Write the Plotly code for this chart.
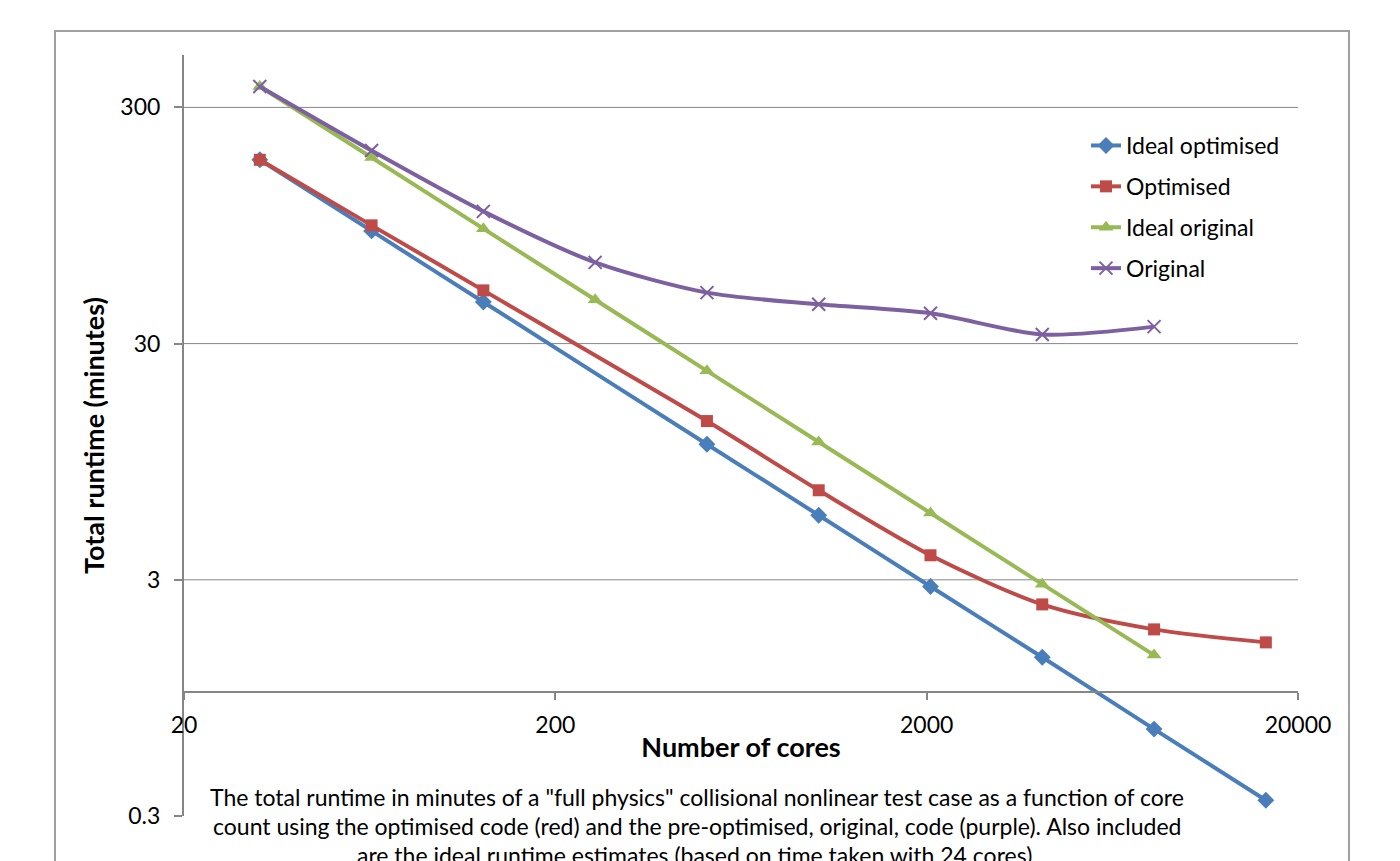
import math
import plotly.graph_objects as go

# Core counts (x) and total runtimes in minutes (y)
cores = [32, 64, 128, 256, 512, 1024, 2048, 4096, 8192, 16384]
ideal_optimised = [180, 90, 45, None, 11.25, 5.63, 2.81, 1.41, 0.70, 0.35]
optimised = [180, 95.0, 50.4, None, 14.1, 7.18, 3.81, 2.36, 1.85, 1.63]
ideal_original = [368, 184, 92, 46, 23, 11.5, 5.75, 2.875, 1.44, None]
original = [368, 197, 108.9, 66.2, 49.3, 44.0, 40.3, 32.8, 35.4, None]

series_names = ["Ideal optimised", "Optimised", "Ideal original", "Original"]
series_colors = ["#4A7EBB", "#BE4B48", "#98B954", "#7D60A0"]
series_symbols = ["diamond", "square", "triangle-up", "x-thin"]
series_sizes = [13, 12, 13, 13]

x_ticks = [20, 200, 2000, 20000]
y_ticks = [0.3, 3, 30, 300]
y_grid = [3, 30, 300]

caption_lines = [
    'The total runtime in minutes of a "full physics" collisional nonlinear test case as a function of core',
    "count using the optimised code (red) and the pre-optimised, original, code (purple). Also included",
    "are the ideal runtime estimates (based on time taken with 24 cores).",
]

FONT = "Lato"
TXT = 23
TITLE = 27
W, H = 1400, 861
ML, MR, MT, MB = 184, 102, 55, 45
PW, PH = W - ML - MR, H - MT - MB

y_lo, y_hi = math.log10(0.3), math.log10(500)
x_lo, x_hi = math.log10(20), math.log10(20000)


def px_x(p):
    return (p - ML) / PW


def px_y(p):
    return (H - MB - p) / PH


fig = go.Figure()
for name, vals, col, sym, sz in zip(series_names,
                                    [ideal_optimised, optimised, ideal_original, original],
                                    series_colors, series_symbols, series_sizes):
    fig.add_trace(go.Scatter(
        x=cores, y=vals, name=name, mode="lines+markers",
        connectgaps=True, legendgroup=name,
        line=dict(color=col, width=4, shape="spline", smoothing=0.8),
        marker=dict(symbol=sym, size=sz, color=col,
                    line=dict(color=col, width=2 if sym == "x-thin" else 0)),
    ))

shapes = []
for g in y_grid:
    shapes.append(dict(type="line", xref="paper", yref="y", x0=0, x1=1, y0=g, y1=g,
                       line=dict(color="#868686", width=1), layer="below"))
# outer chart frame
shapes.append(dict(type="rect", xref="paper", yref="paper",
                   x0=px_x(55), x1=px_x(1349), y0=px_y(920), y1=px_y(31),
                   line=dict(color="#A0A0A0", width=2), layer="below"))

annotations = []
for i, line in enumerate(caption_lines):
    annotations.append(dict(text=line, xref="paper", yref="paper",
                            x=px_x(697), y=px_y(797 + 29 * i),
                            xanchor="center", yanchor="middle", showarrow=False,
                            font=dict(family=FONT, size=TXT, color="#000000")))

x_axis_pos = (0 - y_lo) / (y_hi - y_lo)

fig.update_layout(
    width=W, height=H,
    margin=dict(l=ML, r=MR, t=MT, b=MB),
    paper_bgcolor="white", plot_bgcolor="white",
    font=dict(family=FONT, size=TXT, color="#000000"),
    showlegend=True,
    legend=dict(x=px_x(1086), y=px_y(124), xanchor="left", yanchor="top",
                bgcolor="rgba(0,0,0,0)", tracegroupgap=8,
                font=dict(family=FONT, size=TXT)),
    xaxis=dict(type="log", range=[x_lo, x_hi], tickvals=x_ticks,
               ticktext=[str(v) for v in x_ticks],
               anchor="free", position=x_axis_pos,
               showline=True, linecolor="#868686", linewidth=2,
               ticks="outside", ticklen=7, tickcolor="#868686", tickwidth=1.5,
               ticklabelstandoff=5,
               showgrid=False, zeroline=False,
               title=dict(text="<b>Number of cores</b>", standoff=0,
                          font=dict(family=FONT, size=TITLE))),
    yaxis=dict(type="log", range=[y_lo, y_hi], tickvals=y_ticks,
               ticktext=[str(v) for v in y_ticks],
               showline=True, linecolor="#868686", linewidth=2,
               ticks="outside", ticklen=8, tickcolor="#868686", tickwidth=1.5,
               showgrid=False, zeroline=False, ticklabelstandoff=9,
               title=dict(text="<b>Total runtime (minutes)</b>", standoff=8,
                          font=dict(family=FONT, size=TITLE))),
    shapes=shapes, annotations=annotations,
)

fig.write_html("out.html")
